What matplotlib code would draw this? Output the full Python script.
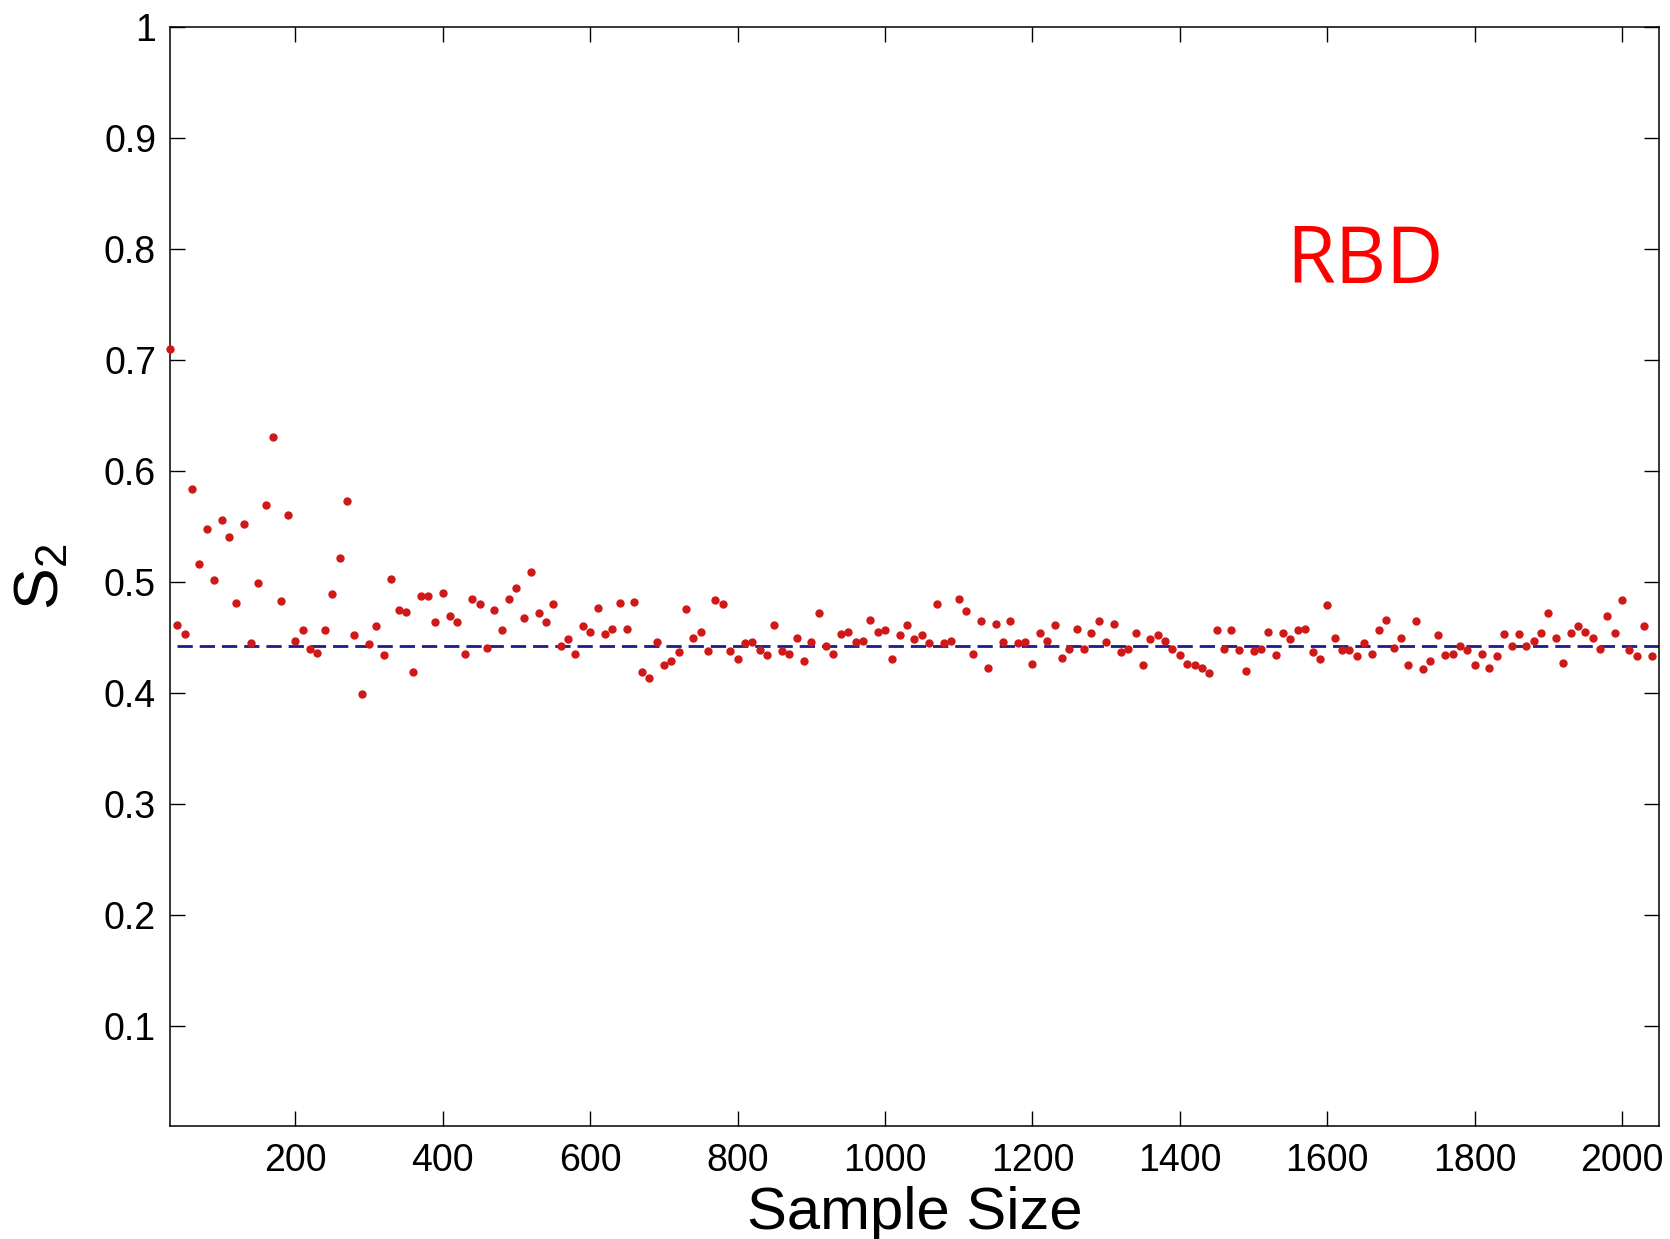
import numpy as np
import matplotlib
matplotlib.use("Agg")
import matplotlib.pyplot as plt

plt.rcParams['font.family'] = ['Liberation Sans', 'DejaVu Sans']

# sample sizes 30, 40, ..., 2040
sample_size = list(range(30, 2050, 10))

# S2 estimate at each sample size
s2 = [0.710, 0.461, 0.453, 0.584, 0.516, 0.548, 0.502, 0.556, 0.541, 0.481,
      0.552, 0.445, 0.499, 0.569, 0.631, 0.483, 0.560, 0.447, 0.457, 0.440,
      0.436, 0.457, 0.489, 0.522, 0.573, 0.452, 0.399, 0.444, 0.460, 0.434,
      0.503, 0.475, 0.473, 0.419, 0.487, 0.487, 0.464, 0.490, 0.469, 0.464,
      0.435, 0.485, 0.480, 0.441, 0.475, 0.457, 0.485, 0.495, 0.468, 0.509,
      0.472, 0.464, 0.480, 0.442, 0.449, 0.435, 0.460, 0.455, 0.477, 0.453,
      0.458, 0.481, 0.458, 0.482, 0.419, 0.414, 0.446, 0.425, 0.429, 0.437,
      0.476, 0.450, 0.455, 0.438, 0.484, 0.480, 0.438, 0.431, 0.445, 0.446,
      0.439, 0.434, 0.461, 0.438, 0.435, 0.450, 0.429, 0.446, 0.472, 0.442,
      0.435, 0.453, 0.455, 0.446, 0.447, 0.466, 0.455, 0.457, 0.431, 0.452,
      0.461, 0.449, 0.452, 0.445, 0.480, 0.445, 0.447, 0.485, 0.474, 0.435,
      0.465, 0.423, 0.462, 0.446, 0.465, 0.445, 0.446, 0.426, 0.454, 0.447,
      0.461, 0.432, 0.440, 0.458, 0.440, 0.454, 0.465, 0.446, 0.462, 0.437,
      0.440, 0.454, 0.425, 0.449, 0.452, 0.447, 0.440, 0.434, 0.426, 0.425,
      0.423, 0.418, 0.457, 0.440, 0.457, 0.439, 0.420, 0.438, 0.440, 0.455,
      0.434, 0.454, 0.449, 0.457, 0.458, 0.437, 0.431, 0.479, 0.450, 0.439,
      0.439, 0.433, 0.445, 0.435, 0.457, 0.466, 0.441, 0.450, 0.425, 0.465,
      0.422, 0.429, 0.452, 0.434, 0.435, 0.442, 0.439, 0.425, 0.435, 0.423,
      0.433, 0.453, 0.442, 0.453, 0.442, 0.447, 0.454, 0.472, 0.450, 0.427,
      0.454, 0.460, 0.455, 0.450, 0.440, 0.469, 0.454, 0.484, 0.439, 0.433,
      0.460, 0.433]

# reference value (dashed line)
ref_x = [40, 2050]
ref_value = 0.442

xticks = [200, 400, 600, 800, 1000, 1200, 1400, 1600, 1800, 2000]
yticks = [0.1, 0.2, 0.3, 0.4, 0.5, 0.6, 0.7, 0.8, 0.9, 1]
ytick_labels = ['0.1', '0.2', '0.3', '0.4', '0.5', '0.6', '0.7', '0.8', '0.9', '1']

fig = plt.figure(figsize=(16.7, 12.39), dpi=100)
ax = fig.add_axes([0.1018, 0.0912, 0.8916, 0.8870])

ax.plot(ref_x, [ref_value, ref_value], color='#1c1c8a', lw=2.0,
        dashes=(5.5, 2.5), zorder=2)
ax.plot(sample_size, s2, '.', color='#d01818', markersize=10, zorder=3,
        clip_on=False)

ax.set_xlim(30, 2050)
ax.set_ylim(0.01, 1)
ax.set_xticks(xticks)
ax.set_yticks(yticks)
ax.set_yticklabels(ytick_labels)

ax.tick_params(direction='in', length=11, width=1, top=True, right=True,
               labelsize=27)
ax.tick_params(axis='y', pad=10)
ax.tick_params(axis='x', pad=12)
for sp in ax.spines.values():
    sp.set_linewidth(1.1)

ax.set_xlabel('Sample Size', fontsize=43, labelpad=5)
ax.set_ylabel('$\\mathregular{S_2}$', fontsize=45, labelpad=24)

ax.text(1545, 0.7695, 'RBD', color='#ff0000', fontsize=57,
        family=['Open Sans', 'DejaVu Sans'], ha='left', va='baseline')

fig.savefig('out.png', dpi=100)
